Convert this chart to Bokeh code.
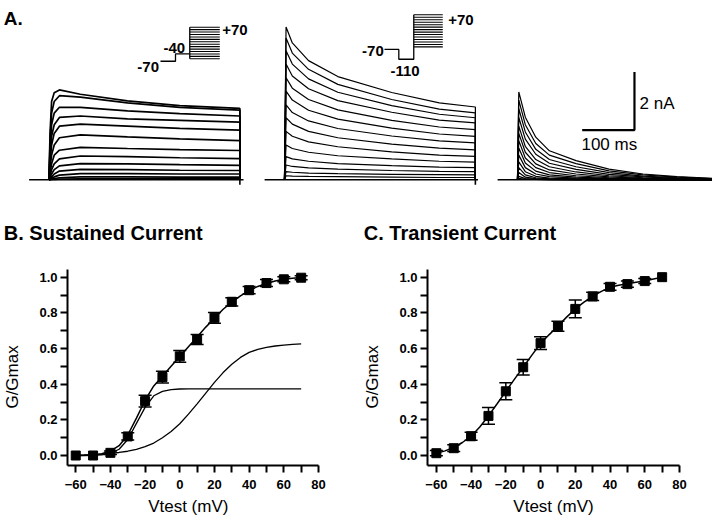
import math
from bokeh.plotting import figure
from bokeh.layouts import column, row
from bokeh.models import (Range1d, Label, FixedTicker, ColumnDataSource, Whisker,
                          TeeHead, NumeralTickFormatter)
from bokeh.embed import file_html
from bokeh.resources import INLINE

FONT = "Liberation Sans"

# ---------------- Panel A: protocols and current traces ----------------
hold_mV = -70
pre1_mV = -40
pre2_mV = -110
test_mV = [-60, -50, -40, -30, -20, -10, 0, 10, 20, 30, 40, 50, 60, 70]

scale_ms = 100
scale_nA = 2
tail_nA = -0.17

# sustained current (from -40 mV), time after step onset (ms) / current (nA)
t_sus = [0, 2, 5, 10, 20, 60, 150, 250, 365]
i_sus = [
    [0, 1.60, 2.70, 3.00, 3.10, 2.95, 2.72, 2.56, 2.46],
    [0, 1.30, 2.30, 2.70, 2.90, 2.85, 2.65, 2.50, 2.40],
    [0, 1.00, 1.90, 2.30, 2.50, 2.50, 2.38, 2.28, 2.20],
    [0, 0.80, 1.50, 1.90, 2.15, 2.20, 2.10, 2.05, 1.99],
    [0, 0.60, 1.20, 1.60, 1.85, 1.92, 1.85, 1.77, 1.71],
    [0, 0.40, 0.85, 1.20, 1.45, 1.55, 1.48, 1.41, 1.35],
    [0, 0.25, 0.55, 0.85, 1.02, 1.12, 1.08, 1.04, 1.01],
    [0, 0.15, 0.35, 0.55, 0.72, 0.82, 0.80, 0.76, 0.73],
    [0, 0.08, 0.20, 0.35, 0.48, 0.56, 0.55, 0.52, 0.50],
    [0, 0.04, 0.10, 0.20, 0.30, 0.36, 0.35, 0.33, 0.32],
    [0, 0.02, 0.05, 0.10, 0.16, 0.21, 0.21, 0.20, 0.20],
    [0, 0.01, 0.02, 0.04, 0.07, 0.10, 0.10, 0.09, 0.09],
    [0, 0.00, 0.01, 0.01, 0.02, 0.03, 0.03, 0.03, 0.03],
]

# total current (from -110 mV)
t_tot = [0, 3, 15, 46, 102, 205, 296, 365]
i_tot = [
    [0, 5.27, 4.72, 4.11, 3.56, 3.01, 2.65, 2.51],
    [0, 4.89, 4.37, 3.81, 3.29, 2.77, 2.44, 2.31],
    [0, 4.45, 3.99, 3.48, 3.02, 2.56, 2.26, 2.14],
    [0, 3.99, 3.58, 3.14, 2.73, 2.33, 2.06, 1.96],
    [0, 3.52, 3.16, 2.77, 2.41, 2.05, 1.82, 1.73],
    [0, 3.06, 2.75, 2.40, 2.09, 1.78, 1.58, 1.50],
    [0, 2.58, 2.32, 2.03, 1.77, 1.51, 1.34, 1.27],
    [0, 2.14, 1.92, 1.67, 1.45, 1.23, 1.09, 1.03],
    [0, 1.67, 1.50, 1.31, 1.14, 0.96, 0.85, 0.81],
    [0, 1.20, 1.08, 0.95, 0.83, 0.72, 0.64, 0.61],
    [0, 0.80, 0.72, 0.64, 0.56, 0.49, 0.44, 0.42],
    [0, 0.51, 0.46, 0.41, 0.37, 0.32, 0.29, 0.28],
    [0, 0.28, 0.26, 0.23, 0.21, 0.19, 0.18, 0.17],
    [0, 0.14, 0.13, 0.12, 0.11, 0.09, 0.08, 0.08],
]

# transient current (difference)
t_tr = [0, 2.5, 15, 35, 61, 112, 175, 240, 305, 372]
i_tr = [
    [0, 3.03, 2.16, 1.47, 1.00, 0.66, 0.37, 0.20, 0.11, 0.05],
    [0, 2.75, 1.90, 1.25, 0.85, 0.56, 0.31, 0.17, 0.09, 0.04],
    [0, 2.45, 1.65, 1.05, 0.70, 0.45, 0.25, 0.13, 0.07, 0.03],
    [0, 2.15, 1.40, 0.88, 0.57, 0.36, 0.19, 0.10, 0.05, 0.02],
    [0, 1.85, 1.15, 0.70, 0.45, 0.27, 0.14, 0.07, 0.04, 0.02],
    [0, 1.60, 0.95, 0.55, 0.34, 0.20, 0.10, 0.05, 0.03, 0.01],
    [0, 1.35, 0.75, 0.42, 0.25, 0.14, 0.07, 0.04, 0.02, 0.01],
    [0, 1.10, 0.58, 0.30, 0.17, 0.09, 0.05, 0.03, 0.01, 0.00],
    [0, 0.85, 0.42, 0.20, 0.11, 0.06, 0.03, 0.02, 0.01, 0.00],
    [0, 0.62, 0.28, 0.12, 0.06, 0.03, 0.02, 0.01, 0.00, 0.00],
    [0, 0.42, 0.17, 0.07, 0.03, 0.02, 0.01, 0.00, 0.00, 0.00],
    [0, 0.25, 0.09, 0.04, 0.02, 0.01, 0.00, 0.00, 0.00, 0.00],
    [0, 0.12, 0.04, 0.02, 0.01, 0.00, 0.00, 0.00, 0.00, 0.00],
    [0, 0.05, 0.02, 0.01, 0.00, 0.00, 0.00, 0.00, 0.00, 0.00],
]

# ---------------- Panels B / C: activation curves ----------------
v_test = [-60, -50, -40, -30, -20, -10, 0, 10, 20, 30, 40, 50, 60, 70]
g_sus = [0.0, 0.0, 0.015, 0.107, 0.305, 0.44, 0.556, 0.65, 0.772, 0.862, 0.927, 0.967, 0.988, 0.997]
e_sus = [0.0, 0.0, 0.01, 0.02, 0.033, 0.033, 0.033, 0.028, 0.03, 0.023, 0.02, 0.02, 0.014, 0.011]
g_tr = [0.013, 0.041, 0.108, 0.222, 0.36, 0.495, 0.63, 0.725, 0.822, 0.892, 0.946, 0.961, 0.978, 1.0]
e_tr = [0.015, 0.019, 0.023, 0.047, 0.048, 0.043, 0.036, 0.028, 0.05, 0.023, 0.019, 0.017, 0.014, 0.0]

fit_v = [-60, -55, -50, -45, -40, -35, -30, -25, -20, -15, -10, -5, 0, 5, 10,
         15, 20, 25, 30, 35, 40, 45, 50, 55, 60, 65, 70]
fit_sus_total = [0.0, 0.001, 0.003, 0.01, 0.025, 0.055, 0.115, 0.21, 0.31, 0.39, 0.445, 0.5,
                 0.555, 0.61, 0.665, 0.72, 0.77, 0.82, 0.86, 0.895, 0.925, 0.948, 0.965,
                 0.978, 0.988, 0.994, 0.998]
fit_sus_fast = [0.0, 0.0, 0.001, 0.004, 0.012, 0.035, 0.09, 0.18, 0.27, 0.335, 0.36, 0.37,
                0.373, 0.374, 0.374, 0.374, 0.374, 0.374, 0.374, 0.374, 0.374, 0.374,
                0.374, 0.374, 0.374, 0.374, 0.374]
fit_sus_slow = [0.002, 0.003, 0.005, 0.008, 0.012, 0.017, 0.024, 0.035, 0.05, 0.07, 0.1, 0.135,
                0.178, 0.232, 0.29, 0.35, 0.41, 0.465, 0.512, 0.55, 0.578, 0.595, 0.606,
                0.614, 0.619, 0.623, 0.626]
fit_tr = [0.012, 0.026, 0.045, 0.073, 0.108, 0.16, 0.222, 0.29, 0.36, 0.428, 0.495, 0.563,
          0.628, 0.678, 0.726, 0.776, 0.822, 0.86, 0.892, 0.92, 0.943, 0.955, 0.963, 0.971,
          0.979, 0.99, 1.0]

x_ticks = [-60, -40, -20, 0, 20, 40, 60, 80]
x_minor = [-50, -30, -10, 10, 30, 50, 70]
y_ticks = [0.0, 0.2, 0.4, 0.6, 0.8, 1.0]
y_minor = [0.1, 0.3, 0.5, 0.7, 0.9]

# ---------------- layout constants ----------------
ON1, ON2, ON3 = 92.7, 543.0, 988.5        # step onsets (ms on panel A canvas)
PRE = 38                                  # baseline shown before step (ms)
INS1 = [305.9, 334.6, 361.9, 419.3]       # schematic protocol 1 x positions
INS2 = [734.2, 761.6, 790.2, 845.7]       # schematic protocol 2 x positions
SBX, SBY = 1212.2, 1.714                  # scale bar corner
NB = "\u00a0"
TOPH = 250                                # height of the top canvas (px)


def lab(p, x, y, text, size, bold=False, align="left", baseline="middle"):
    p.add_layout(Label(x=x, y=y, x_units="screen", y_units="screen", text=text,
                       text_font=FONT, text_font_size=size,
                       text_font_style="bold" if bold else "normal",
                       text_color="black", text_align=align, text_baseline=baseline))


# ---------------- Panel A figure (also carries the B / C headings) ----------------
pA = figure(width=720, height=TOPH, x_range=Range1d(0, 1376.7),
            y_range=Range1d(-2.438, 6.183),
            output_backend="svg", toolbar_location=None, x_axis_location=None,
            y_axis_location=None, min_border=0, min_border_left=0, min_border_right=0,
            min_border_top=0, min_border_bottom=0, outline_line_color=None)
pA.grid.visible = False
pA.extra_y_ranges = {"v1": Range1d(-848.9, 179.9), "v2": Range1d(-884.3, 127.9)}


def group(onset, times, traces, drop, width):
    xs, ys = [], []
    for tr in traces:
        x = [onset + t for t in times]
        y = list(tr)
        if drop:
            x.append(onset + times[-1])
            y.append(0)
        xs.append(x)
        ys.append(y)
    pA.multi_line(xs, ys, line_color="black", line_width=width)


# baselines
end1 = t_sus[-1]
end2 = t_tot[-1]
pA.line([ON1 - PRE, ON1 + end1, ON1 + end1, ON1 + end1, ON1 + end1 + 7],
        [0, 0, tail_nA, 0, 0], line_color="black", line_width=1.6)
pA.line([ON2 - PRE, ON2 + end2, ON2 + end2, ON2 + end2, ON2 + end2 + 5],
        [0, 0, tail_nA, 0, 0], line_color="black", line_width=1.6)
pA.line([ON3 - PRE, ON3 + t_tr[-1]], [0, 0], line_color="black", line_width=1.6)

group(ON1, t_sus, i_sus, True, 1.7)
group(ON2, t_tot, i_tot, True, 1.2)
group(ON3, t_tr, i_tr, False, 1.2)

# protocol 1: -70 -> -40 -> test steps
a, b, c, d = INS1
pA.line([a, b, b, c], [hold_mV, hold_mV, pre1_mV, pre1_mV], y_range_name="v1",
        line_color="black", line_width=1.3)
pA.segment(x0=[c], y0=[min(test_mV)], x1=[c], y1=[max(test_mV)], y_range_name="v1",
           line_color="black", line_width=1.3)
pA.segment(x0=[c] * len(test_mV), y0=test_mV, x1=[d] * len(test_mV), y1=test_mV,
           y_range_name="v1", line_color="black", line_width=1.1)

# protocol 2: -70 -> -110 -> test steps
a, b, c, d = INS2
pA.line([a, b, b, c, c], [hold_mV, hold_mV, pre2_mV, pre2_mV, max(test_mV)],
        y_range_name="v2", line_color="black", line_width=1.3)
pA.segment(x0=[c] * len(test_mV), y0=test_mV, x1=[d] * len(test_mV), y1=test_mV,
           y_range_name="v2", line_color="black", line_width=1.1)

# scale bar
pA.line([SBX - scale_ms, SBX, SBX], [SBY, SBY, SBY + scale_nA], line_color="black",
        line_width=2.2)

lab(pA, 3.3, TOPH - 18.3, "A.", "19px", bold=True, baseline="alphabetic")
lab(pA, 158.5, TOPH - 66.5, "%d" % hold_mV, "15px", bold=True, align="right")
lab(pA, 163, TOPH - 47, "%d" % pre1_mV, "15px", bold=True)
lab(pA, 221.7, TOPH - 29.5, "+%d" % max(test_mV), "15px", bold=True)
lab(pA, 383.3, TOPH - 50.5, "%d" % hold_mV, "15px", bold=True, align="right")
lab(pA, 390, TOPH - 70.7, "%d" % pre2_mV, "15px", bold=True)
lab(pA, 447.7, TOPH - 19.3, "+%d" % max(test_mV), "15px", bold=True)
lab(pA, 639, TOPH - 103.3, "%d nA" % scale_nA, "17px")
lab(pA, 608.8, TOPH - 144, "%d ms" % scale_ms, "17px", align="center")
lab(pA, 3.3, TOPH - 232.7, "B. Sustained Current", "20px", bold=True, baseline="alphabetic")
lab(pA, 363.3, TOPH - 232.7, "C. Transient Current", "20px", bold=True, baseline="alphabetic")


# ---------------- Panels B and C ----------------
def gfig(xr, left, right, xlabel, ylabel):
    p = figure(width=360, height=524 - TOPH, x_range=Range1d(*xr),
               y_range=Range1d(-0.056, 1.043),
               output_backend="svg", toolbar_location=None, min_border_left=left,
               min_border_right=right, min_border_top=269 - TOPH, min_border_bottom=59,
               outline_line_color=None, background_fill_color="white")
    p.grid.visible = False
    for ax in (p.xaxis[0], p.yaxis[0]):
        ax.axis_line_width = 2
        ax.axis_line_color = "black"
        ax.major_tick_line_width = 2
        ax.minor_tick_line_width = 2
        ax.major_tick_line_color = "black"
        ax.minor_tick_line_color = "black"
        ax.major_tick_in = 0
        ax.major_tick_out = 7
        ax.minor_tick_in = 0
        ax.minor_tick_out = 7
        ax.major_label_text_font = FONT
        ax.major_label_text_font_size = "13px"
        ax.major_label_text_font_style = "bold"
        ax.major_label_text_color = "black"
        ax.axis_label_text_font = FONT
        ax.axis_label_text_font_size = "17px"
        ax.axis_label_text_font_style = "normal"
        ax.axis_label_text_color = "black"
    p.xaxis[0].ticker = FixedTicker(ticks=x_ticks, minor_ticks=x_minor)
    p.yaxis[0].ticker = FixedTicker(ticks=y_ticks, minor_ticks=y_minor)
    p.yaxis[0].formatter = NumeralTickFormatter(format="0.0")
    p.xaxis[0].major_label_standoff = 7
    p.yaxis[0].major_label_standoff = 3
    p.xaxis[0].axis_label = xlabel
    p.yaxis[0].axis_label = ylabel
    p.xaxis[0].axis_label_standoff = 5
    p.yaxis[0].axis_label_standoff = 14
    return p


def points(p, g, e):
    keep = [i for i in range(len(v_test)) if e[i] > 0]
    src = ColumnDataSource(dict(v=[v_test[i] for i in keep],
                                lo=[g[i] - e[i] for i in keep],
                                up=[g[i] + e[i] for i in keep]))
    p.add_layout(Whisker(source=src, base="v", lower="lo", upper="up", line_color="black",
                         line_width=1.5,
                         upper_head=TeeHead(size=13, line_width=1.5, line_color="black"),
                         lower_head=TeeHead(size=13, line_width=1.5, line_color="black")))
    p.scatter(v_test, g, marker="square", size=9, color="black")


pB = gfig((-64.75, 80), 65, 42, "Vtest (mV)" + NB * 2, "G/Gmax" + NB * 4)
pB.line(fit_v, fit_sus_slow, line_color="black", line_width=1.3)
pB.line(fit_v, fit_sus_fast, line_color="black", line_width=1.3)
pB.line(fit_v, fit_sus_total, line_color="black", line_width=1.5)
points(pB, g_sus, e_sus)

pC = gfig((-65.1, 80), 65, 41, "Vtest (mV)", "G/Gmax" + NB * 4)
pC.line(fit_v, fit_tr, line_color="black", line_width=1.5)
points(pC, g_tr, e_tr)

layout = column(pA, row(pB, pC))
open("out.html", "w").write(file_html(layout, INLINE))
